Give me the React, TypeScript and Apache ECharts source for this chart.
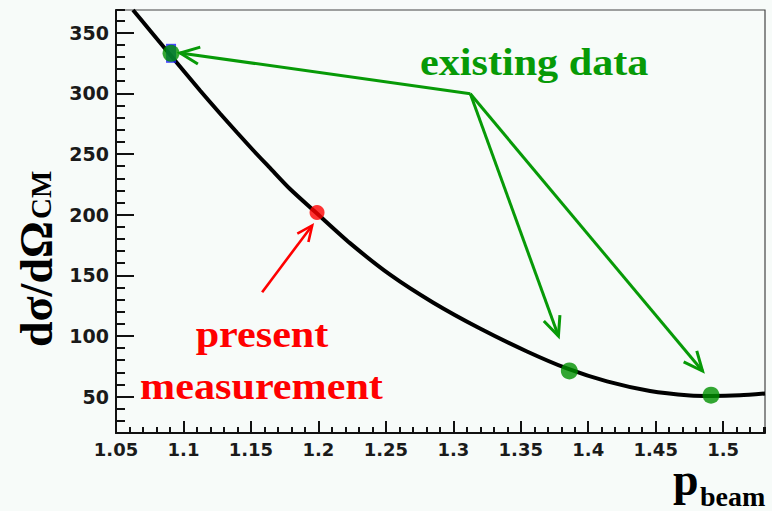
import React, { useEffect, useRef } from "react";
import * as echarts from "echarts";

// Fitted cross-section curve
const curveX = [1.0626, 1.0752, 1.09, 1.1123, 1.1271, 1.1397, 1.1515, 1.1641, 1.179, 1.199, 1.2234, 1.2531, 1.2849, 1.3198, 1.3546, 1.3842, 1.4139, 1.4458, 1.4754, 1.4917, 1.5125, 1.531];
const curveY = [368.7, 351.8, 332.0, 302.3, 283.4, 267.7, 253.3, 238.5, 221.1, 200.9, 176.5, 150.5, 127.6, 106.1, 87.2, 73.2, 62.5, 54.6, 50.9, 50.5, 51.1, 52.6];

// Existing data points (green) and present measurement (red)
const existingX = [1.0908, 1.386, 1.491];
const existingY = [333, 71.2, 51.2];
const presentX = [1.199];
const presentY = [201.7];

// Annotation arrows: [fromX, fromY, toX, toY]
const greenArrows = [
  [1.3126, 299.6, 1.0975, 333.3],
  [1.3126, 299.6, 1.3779, 99.9],
  [1.3126, 299.6, 1.4847, 71.1],
];
const redArrows = [[1.1583, 136.1, 1.1954, 191.1]];

const X_MIN = 1.05;
const X_MAX = 1.531;
const Y_MIN = 20;
const Y_MAX = 368.7;

const SERIF = "Liberation Serif";
const SANS = "DejaVu Sans";
const GREEN = "#079a07";
const RED = "#ff0000";

function arrowSeries(data: number[][], color: string, width: number, head: number) {
  return {
    type: "custom",
    data,
    encode: { x: [0, 2], y: [1, 3] },
    silent: true,
    z: 5,
    renderItem: (_params: any, api: any) => {
      const p0 = api.coord([api.value(0), api.value(1)]);
      const p1 = api.coord([api.value(2), api.value(3)]);
      const ang = Math.atan2(p1[1] - p0[1], p1[0] - p0[0]);
      const a = 0.42;
      const w1 = [p1[0] - head * Math.cos(ang - a), p1[1] - head * Math.sin(ang - a)];
      const w2 = [p1[0] - head * Math.cos(ang + a), p1[1] - head * Math.sin(ang + a)];
      return {
        type: "group",
        children: [
          { type: "line", shape: { x1: p0[0], y1: p0[1], x2: p1[0], y2: p1[1] }, style: { stroke: color, lineWidth: width } },
          { type: "polyline", shape: { points: [w1, p1, w2] }, style: { stroke: color, lineWidth: width, fill: null } },
        ],
      };
    },
  };
}

function txt(text: string, x: number, y: number, size: number, color: string, align: string, extra: any = {}) {
  return {
    type: "text", x, y, z: 10, ...extra,
    style: {
      text, fill: color, fontFamily: SERIF, fontWeight: "bold", fontSize: size,
      textAlign: align, textVerticalAlign: "middle",
    },
  };
}

export default function App() {
  const ref = useRef<HTMLDivElement>(null);
  useEffect(() => {
    if (!ref.current) return;
    const chart = echarts.init(ref.current, undefined, { renderer: "svg" });
    const curve = curveX.map((x, i) => [x, curveY[i]]);
    const existing = existingX.map((x, i) => [x, existingY[i]]);
    const present = presentX.map((x, i) => [x, presentY[i]]);

    chart.setOption({
      animation: false,
      backgroundColor: "#f7fbf9",
      grid: { left: 116, right: 7, top: 10, bottom: 78, show: true, borderColor: "#444", borderWidth: 1.2, backgroundColor: "transparent" },
      xAxis: [
        {
          type: "value", min: X_MIN, max: X_MAX, interval: 0.05, position: "bottom",
          axisLine: { show: true, lineStyle: { color: "#111", width: 2 } },
          axisTick: { show: true, inside: true, length: 12, lineStyle: { color: "#111", width: 2 } },
          axisLabel: { show: true, showMaxLabel: false, margin: 7, color: "#1a1a1a", fontFamily: SANS, fontWeight: "bold", fontSize: 18 },
          splitLine: { show: false },
        },
        {
          type: "value", min: X_MIN, max: X_MAX, interval: 0.01, position: "bottom", offset: 0,
          axisLine: { show: false },
          axisTick: { show: true, inside: true, length: 6, lineStyle: { color: "#111", width: 2 } },
          axisLabel: { show: false },
          splitLine: { show: false },
        },
      ],
      yAxis: [
        {
          type: "value", min: Y_MIN, max: Y_MAX, splitNumber: 5, position: "left",
          axisLine: { show: true, lineStyle: { color: "#111", width: 2 } },
          axisTick: { show: true, inside: true, length: 18, lineStyle: { color: "#111", width: 2 } },
          axisLabel: { show: true, showMinLabel: false, showMaxLabel: false, margin: 7, color: "#1a1a1a", fontFamily: SANS, fontWeight: "bold", fontSize: 19 },
          splitLine: { show: false },
        },
        {
          type: "value", min: Y_MIN, max: Y_MAX, interval: 10, position: "left", offset: 0,
          axisLine: { show: false },
          axisTick: { show: true, inside: true, length: 9, lineStyle: { color: "#111", width: 2 } },
          axisLabel: { show: false },
          splitLine: { show: false },
        },
      ],
      series: [
        {
          type: "line", data: curve, smooth: 0.25, showSymbol: false, symbol: "none",
          lineStyle: { color: "#000", width: 4 }, z: 2, clip: true,
        },
        {
          type: "scatter", data: [existing[0]], symbol: "rect", symbolSize: [10, 19],
          itemStyle: { color: "#1a1aff" }, z: 3,
        },
        {
          type: "scatter", data: existing, symbol: "circle", symbolSize: 17,
          itemStyle: { color: "#009100" }, z: 4,
        },
        {
          type: "scatter", data: present, symbol: "circle", symbolSize: 15,
          itemStyle: { color: RED }, z: 4,
        },
        arrowSeries(greenArrows, GREEN, 3, 21),
        arrowSeries(redArrows, RED, 2.6, 17),
      ],
      graphic: [
        txt("existing data", 420, 63, 37, GREEN, "left", { scaleX: 1.14 }),
        txt("present", 262, 334.5, 37, RED, "center", { scaleX: 1.14 }),
        txt("measurement", 261.5, 386.5, 37, RED, "center", { scaleX: 1.14 }),
        txt("dσ/dΩ", 36.5, 347, 46, "#000", "left", { rotation: Math.PI / 2 }),
        txt("CM", 40.6, 219, 29, "#000", "left", { rotation: Math.PI / 2 }),
        txt("p", 673, 479.5, 46, "#000", "left"),
        txt("beam", 700, 496.6, 28, "#000", "left"),
      ],
    });
    return () => chart.dispose();
  }, []);
  return (
    <div
      ref={ref}
      style={{ position: "fixed", left: 0, top: 0, width: 772, height: 511 }}
    />
  );
}
